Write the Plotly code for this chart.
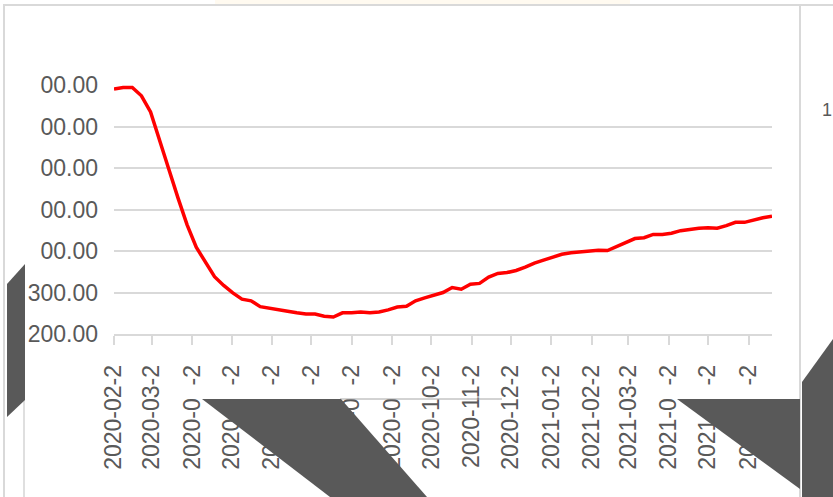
import plotly.graph_objects as go
import pandas as pd

# ---- data ----
start_date = "2020-02-23"
values = [790, 794, 794, 774, 735, 669, 597, 528, 463, 409,
          372, 338, 317, 299, 284, 280, 266, 263, 260, 255,
          251, 248, 248, 243, 241, 251, 251, 253, 251, 253,
          258, 265, 267, 280, 287, 294, 300, 312, 308, 320,
          322, 337, 346, 348, 353, 361, 371, 378, 385, 392,
          396, 398, 401, 402, 401, 411, 419, 430, 432, 440,
          440, 443, 449, 453, 455, 456, 455, 461, 469, 469,
          475, 480, 484]
dates = pd.date_range(start_date, periods=len(values), freq="7D")

x_tick_dates = pd.date_range("2020-02-01", periods=17, freq="MS") + pd.Timedelta(days=22)
x_tick_text = ["2020-02-2", "2020-03-2", "2020-0\u2007-2", "2020-0\u2007-2", "2020-0\u2007-2",
               "2020-0\u2007-2", "2020-0\u2007-2", "2020-0\u2007-2", "2020-10-2", "2020-11-2",
               "2020-12-2", "2021-01-2", "2021-02-2", "2021-03-2", "2021-0\u2007-2",
               "2021-0\u2007-2", "2021-0\u2007-2"]
y_tick_vals = [200, 300, 400, 500, 600, 700, 800]
y_tick_text = ["200.00", "300.00", "00.00", "00.00", "00.00", "00.00", "00.00"]
side_label = "1"

# ---- layout geometry (pixels) ----
W, H = 833, 497
L, R, T, B = 114, 61, 85, 163
PW, PH = W - L - R, H - T - B


def px(x):
    return (x - L) / PW


def py(y):
    return (H - B - y) / PH


def path(points):
    return "M " + " L ".join(f"{px(a):.5f},{py(b):.5f}" for a, b in points) + " Z"


font = "Liberation Sans, Arial, sans-serif"
grey_text = "#595959"
grid = "#d9d9d9"
dark = "#595959"

fig = go.Figure()
fig.add_trace(go.Scatter(x=dates, y=values, mode="lines",
                         line=dict(color="#ff0000", width=3.5), hoverinfo="skip"))

shapes = []
# faint yellow haze at top
shapes.append(dict(type="rect", xref="paper", yref="paper", x0=px(215), x1=px(630), y0=py(5), y1=py(0),
                   fillcolor="#fffaf0", line=dict(width=0), layer="below"))
# container borders
shapes.append(dict(type="line", xref="paper", yref="paper", x0=px(3), x1=px(833), y0=py(5), y1=py(5),
                   line=dict(color=grid, width=2), layer="above"))
shapes.append(dict(type="line", xref="paper", yref="paper", x0=px(4), x1=px(4), y0=py(5), y1=py(497),
                   line=dict(color=grid, width=2), layer="above"))
shapes.append(dict(type="line", xref="paper", yref="paper", x0=px(800), x1=px(800), y0=py(5), y1=py(497),
                   line=dict(color=grid, width=2), layer="above"))
# thin lines
shapes.append(dict(type="line", xref="paper", yref="paper", x0=px(340), x1=px(502), y0=py(399), y1=py(399),
                   line=dict(color="#a6a6a6", width=1), layer="above"))
shapes.append(dict(type="line", xref="paper", yref="paper", x0=px(24), x1=px(24), y0=py(400), y1=py(497),
                   line=dict(color="#bfbfbf", width=1), layer="above"))
# dark polygons
for pts in [
    [(7, 284), (25, 264), (25, 400), (7, 417)],
    [(202, 399), (341, 399), (427, 497), (330, 497)],
    [(677, 399), (800, 399), (800, 489)],
    [(802, 382), (833, 339), (833, 497), (802, 497)],
]:
    shapes.append(dict(type="path", xref="paper", yref="paper", path=path(pts),
                       fillcolor=dark, line=dict(width=0), layer="above"))

fig.update_layout(
    width=W, height=H,
    margin=dict(l=L, r=R, t=T, b=B),
    paper_bgcolor="white", plot_bgcolor="white",
    showlegend=False,
    shapes=shapes,
    annotations=[dict(text=side_label, xref="paper", yref="paper", x=px(820), y=py(110),
                      xanchor="left", yanchor="middle", showarrow=False,
                      font=dict(family=font, size=18, color=grey_text))],
    xaxis=dict(range=[dates[0], dates[-1]], tickmode="array", tickvals=x_tick_dates, ticktext=x_tick_text,
               tickangle=-90, ticks="outside", ticklen=9, tickcolor=grid, tickwidth=1.5,
               showline=True, linecolor=grid, linewidth=1.5, showgrid=False, zeroline=False,
               tickfont=dict(family=font, size=23, color=grey_text), ticklabelstandoff=11),
    yaxis=dict(range=[200, 800], tickmode="array", tickvals=y_tick_vals, ticktext=y_tick_text,
               showgrid=True, gridcolor=grid, gridwidth=1.5, zeroline=False, showline=False,
               ticks="", tickfont=dict(family=font, size=23, color=grey_text), ticklabelstandoff=15),
)

fig.write_html("out.html", config={"displayModeBar": False},
               post_script="document.body.style.margin='0px';document.body.style.overflow='hidden';")
